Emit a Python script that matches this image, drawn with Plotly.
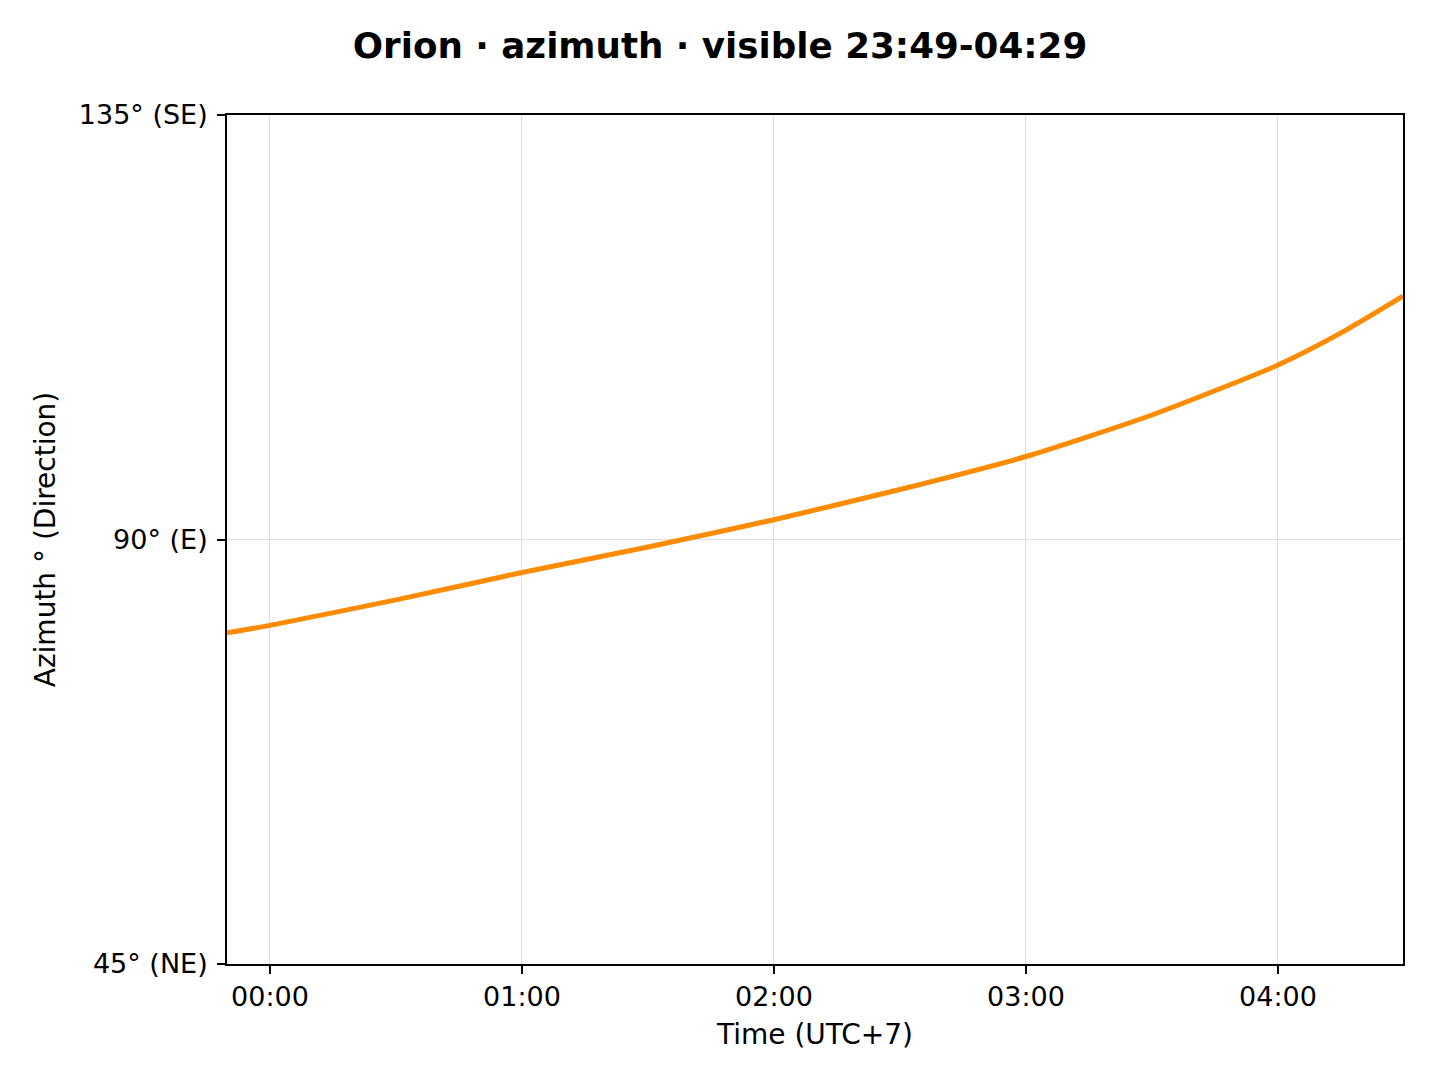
import pandas as pd
import plotly.graph_objects as go

# Orion azimuth over the visible window (UTC+7)
times = ["2024-12-15 23:49:46", "2024-12-16 00:00:00", "2024-12-16 00:30:00",
         "2024-12-16 01:00:00", "2024-12-16 01:30:00", "2024-12-16 02:00:00",
         "2024-12-16 02:30:00", "2024-12-16 03:00:00", "2024-12-16 03:30:00",
         "2024-12-16 04:00:00", "2024-12-16 04:15:00", "2024-12-16 04:29:46"]
azimuth = [80.1, 80.9, 83.6, 86.5, 89.2, 92.1, 95.3, 98.8, 103.2, 108.5, 111.9, 115.8]

y_ticks = [45, 90, 135]
y_tick_labels = ["45° (NE)", "90° (E)", "135° (SE)"]
title = "Orion · azimuth · visible 23:49-04:29"

x = pd.to_datetime(times)

fig = go.Figure()
fig.add_trace(go.Scatter(
    x=x, y=azimuth, mode="lines", line=dict(color="#ff8c00", width=5, shape="spline", smoothing=0.6),
    showlegend=False, hoverinfo="x+y",
))

font = dict(family="DejaVu Sans", size=27, color="black")
label_font = dict(family="DejaVu Sans", size=28, color="black")
axis_common = dict(
    showline=True, linecolor="black", linewidth=1.8, mirror=True,
    ticks="outside", ticklen=8, tickwidth=1.8, tickcolor="black",
    showgrid=True, gridcolor="#dedede", gridwidth=1.3,
    zeroline=False, tickfont=font,
)

# page body adds an 8px offset, margins are compensated for it
fig.update_layout(
    width=1440, height=1080,
    paper_bgcolor="white", plot_bgcolor="white",
    margin=dict(l=219, r=45, t=107, b=124),
    font=font,
    title=dict(text="<b>" + title + "</b>", x=(720 - 8) / 1440, xanchor="center",
               y=1 - 38 / 1080, yanchor="middle", yref="container",
               font=dict(family="DejaVu Sans", size=35.7, color="black")),
    xaxis=dict(
        axis_common, type="date", range=[x[0], x[-1]],
        tick0="2024-12-16 00:00:00", dtick=3600000, tickformat="%H:%M",
        title=dict(text="Time (UTC+7)", font=label_font, standoff=13),
    ),
    yaxis=dict(
        axis_common, range=[45, 135], tickvals=y_ticks, ticktext=y_tick_labels,
        ticklabelstandoff=4,
        title=dict(text="Azimuth ° (Direction)", font=label_font, standoff=15),
    ),
)

fig.write_html("out.html")
